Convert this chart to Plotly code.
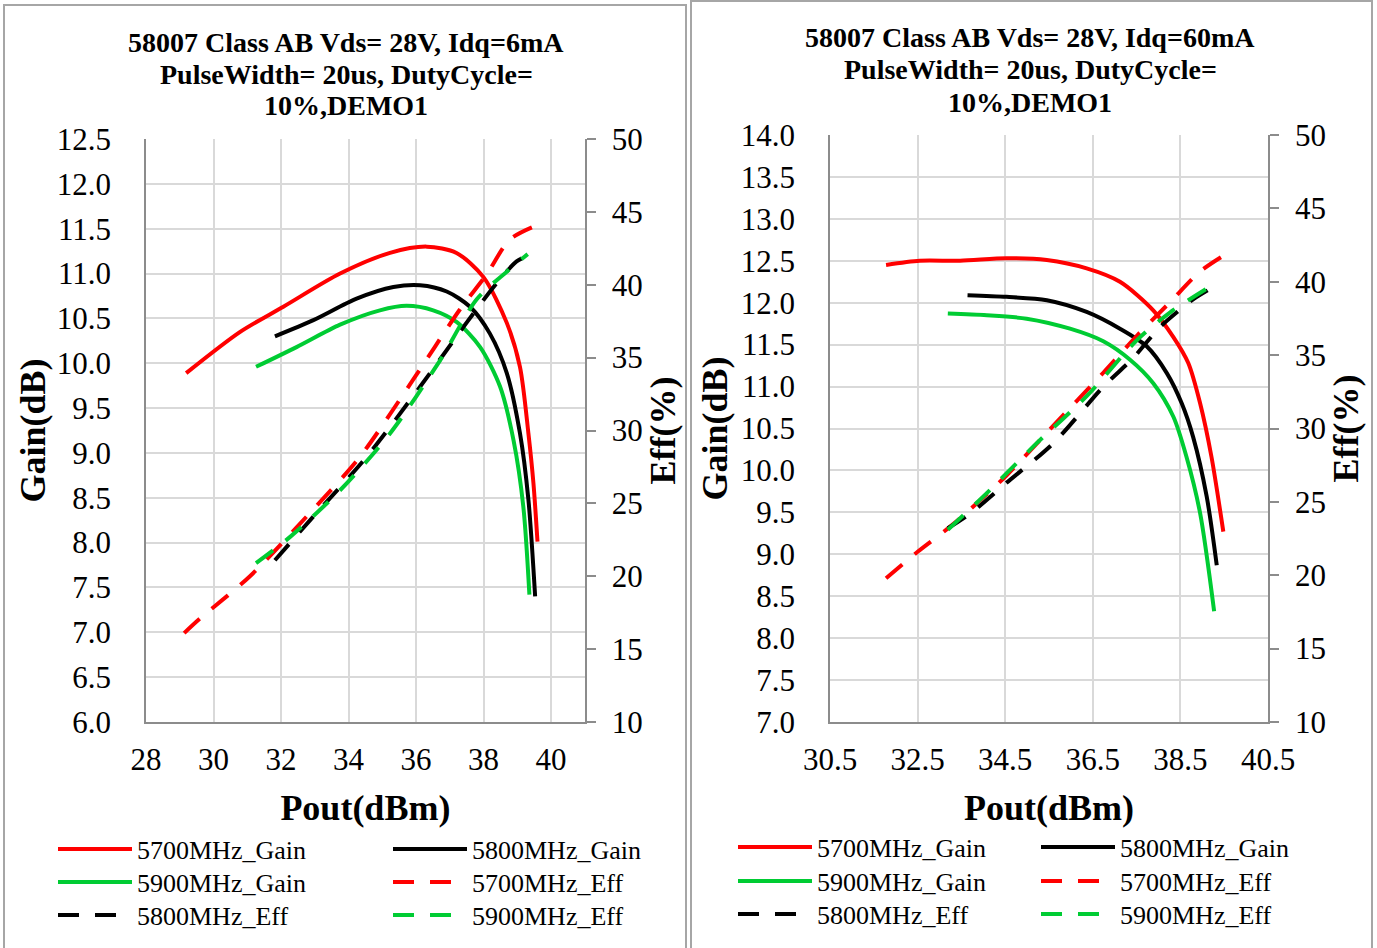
import plotly.graph_objects as go

W, H = 1377, 948
FONT = "Liberation Serif"
RED, BLACK, GREEN = "#FF0000", "#000000", "#00CC33"

# ---------------- Left chart: Idq = 6 mA ----------------
L_5700_gain_x = [29.19, 30.79, 32.07, 33.75, 35.23, 36.32, 37.2, 38.0, 38.69, 39.08, 39.33, 39.48, 39.6]
L_5700_gain_y = [9.89, 10.35, 10.63, 11.0, 11.23, 11.30, 11.23, 10.96, 10.45, 9.96, 9.22, 8.66, 8.01]
L_5800_gain_x = [31.82, 32.96, 34.24, 35.33, 36.12, 36.91, 37.6, 38.19, 38.69, 39.08, 39.33, 39.53]
L_5800_gain_y = [10.30, 10.48, 10.72, 10.85, 10.87, 10.80, 10.63, 10.33, 9.89, 9.22, 8.48, 7.40]
L_5900_gain_x = [31.26, 32.46, 33.75, 34.93, 35.72, 36.51, 37.2, 37.9, 38.49, 38.89, 39.18, 39.36]
L_5900_gain_y = [9.96, 10.18, 10.43, 10.59, 10.64, 10.59, 10.46, 10.18, 9.74, 9.14, 8.40, 7.42]
L_5700_eff_x = [29.13, 29.6, 31.08, 32.76, 34.34, 35.92, 37.3, 38.09, 38.78, 39.6]
L_5700_eff_y = [16.1, 17.1, 20.0, 24.1, 28.2, 33.5, 38.3, 40.7, 43.1, 44.1]
L_5800_eff_x = [31.82, 32.96, 34.54, 36.12, 37.5, 38.39, 38.98, 39.23]
L_5800_eff_y = [21.1, 24.1, 28.2, 33.0, 37.4, 40.1, 41.6, 41.9]
L_5900_eff_x = [31.26, 32.27, 33.75, 35.23, 36.71, 37.8, 38.69, 39.31]
L_5900_eff_y = [20.9, 22.7, 25.9, 29.8, 34.8, 39.0, 40.9, 42.1]

# ---------------- Right chart: Idq = 60 mA ----------------
R_5700_gain_x = [31.78, 32.55, 33.47, 34.53, 35.45, 36.36, 37.12, 37.88, 38.34, 38.68, 38.95, 39.21, 39.48]
R_5700_gain_y = [12.45, 12.50, 12.50, 12.53, 12.51, 12.41, 12.25, 11.91, 11.59, 11.28, 10.80, 10.16, 9.27]
R_5800_gain_x = [33.64, 34.53, 35.45, 36.36, 37.12, 37.73, 38.19, 38.53, 38.79, 39.1, 39.33]
R_5800_gain_y = [12.09, 12.07, 12.03, 11.89, 11.69, 11.48, 11.16, 10.80, 10.40, 9.69, 8.87]
R_5900_gain_x = [33.19, 34.08, 34.99, 35.98, 36.74, 37.35, 37.88, 38.34, 38.64, 38.95, 39.27]
R_5900_gain_y = [11.87, 11.85, 11.81, 11.69, 11.54, 11.32, 11.04, 10.64, 10.16, 9.49, 8.32]
R_5700_eff_x = [31.78, 32.5, 33.32, 34.53, 35.6, 36.74, 37.5, 38.26, 38.95, 39.44]
R_5700_eff_y = [19.8, 21.6, 23.5, 26.8, 30.2, 33.8, 36.3, 38.6, 40.7, 41.7]
R_5800_eff_x = [33.19, 33.7, 34.53, 35.6, 36.74, 37.42, 38.03, 38.49, 38.79, 39.37]
R_5800_eff_y = [23.2, 24.2, 26.3, 29.0, 32.85, 34.8, 36.9, 38.1, 38.8, 39.85]
R_5900_eff_x = [33.19, 34.08, 35.22, 36.36, 37.5, 38.26, 39.14]
R_5900_eff_y = [23.1, 25.6, 29.0, 32.2, 36.0, 37.9, 39.6]

TITLE_L = ["58007 Class AB Vds= 28V, Idq=6mA", "PulseWidth= 20us, DutyCycle=", "10%,DEMO1"]
TITLE_R = ["58007 Class AB Vds= 28V, Idq=60mA", "PulseWidth= 20us, DutyCycle=", "10%,DEMO1"]

DASH = "21px,16px"

fig = go.Figure()

def add(x, y, name, color, dash, xa, ya, leg):
    fig.add_trace(go.Scatter(
        x=x, y=y, name=name, mode="lines", xaxis=xa, yaxis=ya, legend=leg,
        line=dict(color=color, width=4, dash=dash, shape="spline", smoothing=0.8),
        hoverinfo="skip"))

# left chart traces: legend rows -> legend, legend2, legend3
add(L_5700_gain_x, L_5700_gain_y, "5700MHz_Gain", RED, "solid", "x", "y", "legend")
add(L_5800_gain_x, L_5800_gain_y, "5800MHz_Gain", BLACK, "solid", "x", "y", "legend")
add(L_5900_gain_x, L_5900_gain_y, "5900MHz_Gain", GREEN, "solid", "x", "y", "legend2")
add(L_5700_eff_x, L_5700_eff_y, "5700MHz_Eff", RED, DASH, "x", "y2", "legend2")
add(L_5800_eff_x, L_5800_eff_y, "5800MHz_Eff", BLACK, DASH, "x", "y2", "legend3")
add(L_5900_eff_x, L_5900_eff_y, "5900MHz_Eff", GREEN, DASH, "x", "y2", "legend3")
# right chart traces: legend rows -> legend4, legend5, legend6
add(R_5700_gain_x, R_5700_gain_y, "5700MHz_Gain", RED, "solid", "x2", "y3", "legend4")
add(R_5800_gain_x, R_5800_gain_y, "5800MHz_Gain", BLACK, "solid", "x2", "y3", "legend4")
add(R_5900_gain_x, R_5900_gain_y, "5900MHz_Gain", GREEN, "solid", "x2", "y3", "legend5")
add(R_5700_eff_x, R_5700_eff_y, "5700MHz_Eff", RED, DASH, "x2", "y4", "legend5")
add(R_5800_eff_x, R_5800_eff_y, "5800MHz_Eff", BLACK, DASH, "x2", "y4", "legend6")
add(R_5900_eff_x, R_5900_eff_y, "5900MHz_Eff", GREEN, DASH, "x2", "y4", "legend6")

GRID = "#d9d9d9"
LINE = "#8c8c8c"
tickfont = dict(family=FONT, size=31, color="black")
titlefont = dict(family=FONT, size=36, color="black", weight="bold")

def xax(domain, rng, tick0, fmt, anchor):
    return dict(domain=domain, range=rng, tick0=tick0, dtick=2, tickformat=fmt,
                showgrid=True, gridcolor=GRID, gridwidth=1.5, zeroline=False,
                showline=True, linecolor=LINE, linewidth=1.5, ticks="", automargin=False,
                tickfont=tickfont, ticklabelstandoff=9, anchor=anchor,
                title=dict(text="Pout(dBm)", font=titlefont, standoff=19))

def yax(domain, rng, anchor, lab_off, title_off):
    return dict(domain=domain, range=rng, dtick=0.5, tickformat=".1f",
                showgrid=True, gridcolor=GRID, gridwidth=1.5, zeroline=False,
                showline=True, linecolor=LINE, linewidth=1.5, ticks="", automargin=False,
                tickfont=tickfont, ticklabelstandoff=lab_off, anchor=anchor,
                title=dict(text="Gain(dB)", font=titlefont, standoff=title_off))

def y2ax(overlay, anchor, title_off):
    return dict(overlaying=overlay, side="right", anchor=anchor, range=[10, 50], dtick=5,
                showgrid=False, zeroline=False, showline=True, linecolor=LINE, linewidth=1.5,
                ticks="outside", ticklen=9, tickcolor=LINE, tickwidth=1.5, automargin=False,
                tickfont=tickfont, ticklabelstandoff=10,
                title=dict(text="Eff(%)", font=titlefont, standoff=title_off))

yd_L = [1 - 722 / H, 1 - 139 / H]
yd_R = [1 - 722 / H, 1 - 135 / H]

fig.update_layout(
    template="none",
    width=W, height=H, autosize=False,
    margin=dict(l=0, r=0, t=0, b=0, pad=0),
    paper_bgcolor="white", plot_bgcolor="white",
    font=dict(family=FONT, color="black"),
    xaxis=xax([146 / W, 584.75 / W], [28, 41], 28, "d", "y"),
    yaxis=yax(yd_L, [6, 12.5], "x", 27, 0),
    yaxis2=y2ax("y", "x", 5),
    xaxis2=xax([830 / W, 1268 / W], [30.5, 40.5], 30.5, ".1f", "y3"),
    yaxis3=yax(yd_R, [7, 14], "x2", 27, 2),
    yaxis4=y2ax("y3", "x2", 1),
)

legfont = dict(family=FONT, size=26, color="black")
def leg(x, y, ew):
    return dict(x=x, y=y, xanchor="left", yanchor="middle", orientation="h",
                font=legfont, bgcolor="rgba(0,0,0,0)", borderwidth=0,
                itemwidth=74, entrywidth=ew, entrywidthmode="pixels", tracegroupgap=0,
                itemclick=False, itemdoubleclick=False)

EW_L, EW_R = 246, 214
fig.update_layout(
    legend=leg(53 / W, 1 - 849 / H, EW_L),
    legend2=leg(53 / W, 1 - 882 / H, EW_L),
    legend3=leg(53 / W, 1 - 915 / H, EW_L),
    legend4=leg(733 / W, 1 - 847 / H, EW_R),
    legend5=leg(733 / W, 1 - 881 / H, EW_R),
    legend6=leg(733 / W, 1 - 914 / H, EW_R),
)

# panel borders
fig.add_shape(type="rect", xref="paper", yref="paper", x0=4 / W, x1=686 / W, y0=-0.02, y1=1 - 5 / H,
              line=dict(color="#a6a6a6", width=2), fillcolor="rgba(0,0,0,0)", layer="below")
fig.add_shape(type="rect", xref="paper", yref="paper", x0=691 / W, x1=1372 / W, y0=-0.02, y1=1 - 1 / H,
              line=dict(color="#a6a6a6", width=2), fillcolor="rgba(0,0,0,0)", layer="below")

# chart titles (one annotation per line)
for lines, cx, ys in [(TITLE_L, 346, [42, 74, 106]), (TITLE_R, 1030, [38, 70, 102])]:
    for txt, yy in zip(lines, ys):
        fig.add_annotation(text=txt, xref="paper", yref="paper", x=cx / W, y=1 - yy / H,
                           xanchor="center", yanchor="middle", showarrow=False,
                           font=dict(family=FONT, size=28, color="black", weight="bold"))

fig.write_html("out.html", config={"displayModeBar": False},
               post_script="document.body.style.margin='0';document.body.style.overflow='hidden';")
